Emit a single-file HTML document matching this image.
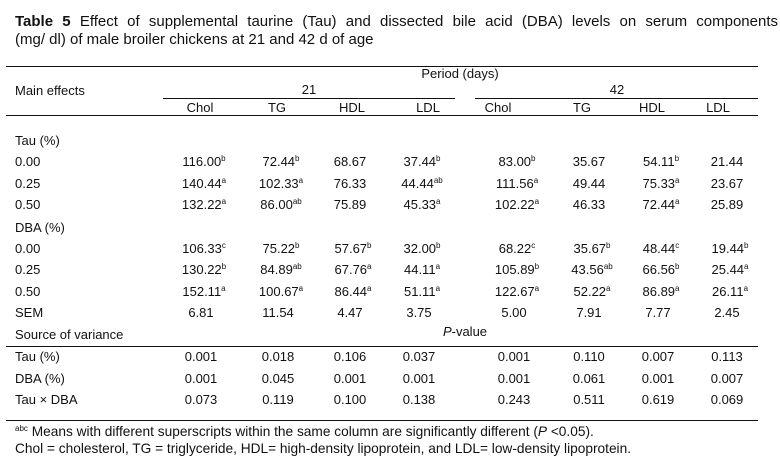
<!DOCTYPE html>
<html><head><meta charset="utf-8">
<style>
body{margin:0;background:#fff;}
#t{position:relative;width:780px;height:460px;font-family:"Liberation Sans",Arial,sans-serif;color:#111;font-size:13px;overflow:hidden;}
.c{position:absolute;height:16px;line-height:16px;white-space:nowrap;}
.m{transform:translateX(-50%);}
.r{position:absolute;height:1px;background:#111;}
sup{font-size:8px;vertical-align:5px;line-height:0;}
.ti{position:absolute;left:15px;font-size:15px;line-height:18px;white-space:nowrap;}
.fn{font-size:13.7px;}
</style></head><body>
<div id="t">
<div class="ti" style="top:13px;width:763px;text-align:justify;text-align-last:justify;white-space:normal;height:18px;overflow:hidden"><b>Table 5</b> Effect of supplemental taurine (Tau) and dissected bile acid (DBA) levels on serum components</div>
<div class="ti" style="top:31px">(mg/ dl) of male broiler chickens at 21 and 42 d of age</div>
<div class="r" style="left:6px;width:752px;top:66px"></div>
<div class="r" style="left:163px;width:292px;top:98px"></div>
<div class="r" style="left:475px;width:283px;top:98px"></div>
<div class="r" style="left:6px;width:752px;top:115px"></div>
<div class="r" style="left:6px;width:752px;top:346px"></div>
<div class="r" style="left:6px;width:752px;top:420px"></div>
<div class="c m" style="left:460px;top:66px">Period (days)</div>
<div class="c" style="left:15px;top:83px">Main effects</div>
<div class="c m" style="left:309px;top:82px">21</div>
<div class="c m" style="left:617px;top:82px">42</div>
<div class="c m" style="top:324px;left:465px"><i>P</i>-value</div>
<div class="c fn" style="left:15px;top:424px"><sup>abc</sup> Means with different superscripts within the same column are significantly different (<i>P</i> &lt;0.05).</div>
<div class="c fn" style="left:15px;top:441px">Chol = cholesterol, TG = triglyceride, HDL= high-density lipoprotein, and LDL= low-density lipoprotein.</div>
</div>
<script>
const heads=["Chol","TG","HDL","LDL","Chol","TG","HDL","LDL"];
const colX=[200,277,352,428,498,582,652,718];
const valX=[201,278,350,419,514,589,658,727];
const rows=[
["Tau (%)",null],
["0.00",["116.00|b","72.44|b","68.67","37.44|b","83.00|b","35.67","54.11|b","21.44"]],
["0.25",["140.44|a","102.33|a","76.33","44.44|ab","111.56|a","49.44","75.33|a","23.67"]],
["0.50",["132.22|a","86.00|ab","75.89","45.33|a","102.22|a","46.33","72.44|a","25.89"]],
["DBA (%)",null],
["0.00",["106.33|c","75.22|b","57.67|b","32.00|b","68.22|c","35.67|b","48.44|c","19.44|b"]],
["0.25",["130.22|b","84.89|ab","67.76|a","44.11|a","105.89|b","43.56|ab","66.56|b","25.44|a"]],
["0.50",["152.11|a","100.67|a","86.44|a","51.11|a","122.67|a","52.22|a","86.89|a","26.11|a"]],
["SEM",["6.81","11.54","4.47","3.75","5.00","7.91","7.77","2.45"]],
["Source of variance",null],
["Tau (%)",["0.001","0.018","0.106","0.037","0.001","0.110","0.007","0.113"]],
["DBA (%)",["0.001","0.045","0.001","0.001","0.001","0.061","0.001","0.007"]],
["Tau × DBA",["0.073","0.119","0.100","0.138","0.243","0.511","0.619","0.069"]]
];
const rowY=[141,162,184,205,228,249,270,292,313,335,357,379,400];
const t=document.getElementById('t');
heads.forEach((h,i)=>{
 const d=document.createElement('div');d.className='c m';
 d.style.left=colX[i]+'px';d.style.top='100px';d.textContent=h;
 
 
 t.appendChild(d);
});
rows.forEach((r,ri)=>{
 const y=rowY[ri]-8;
 const l=document.createElement('div');l.className='c';
 l.style.left='15px';l.style.top=y+'px';l.textContent=r[0];
 
 
 t.appendChild(l);
 if(!r[1])return;
 r[1].forEach((v,ci)=>{
  const p=v.split('|');
  const d=document.createElement('div');d.className='c m';
  d.style.left=(valX[ci]+(p[1]?3:0))+'px';d.style.top=y+'px';
  d.innerHTML=p[0]+(p[1]?'<sup>'+p[1]+'</sup>':'');
  
  
  t.appendChild(d);
 });
});
</script>
</body></html>
